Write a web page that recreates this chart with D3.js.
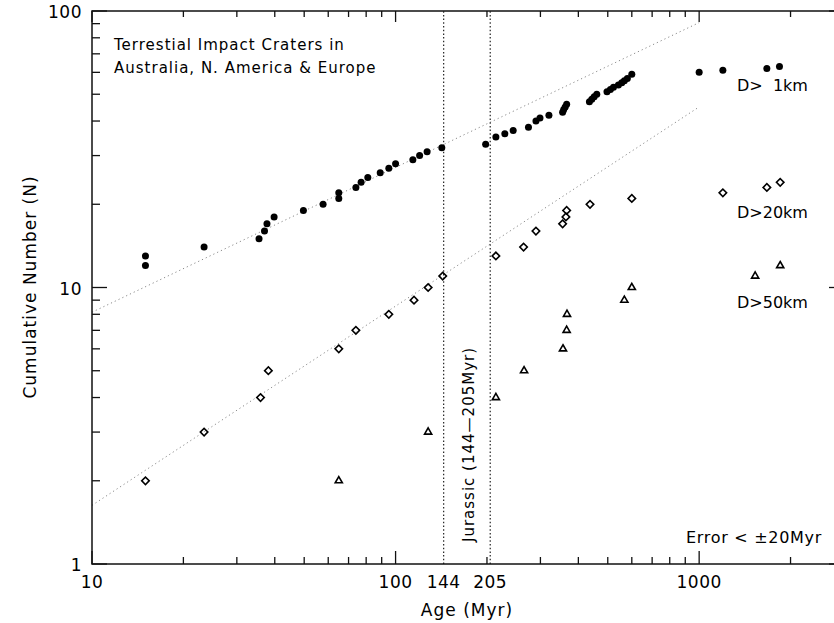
<!DOCTYPE html>
<html>
<head>
<meta charset="utf-8">
<script src="https://cdn.jsdelivr.net/npm/d3@7"></script>
<style>
body{margin:0;background:#fff;}
svg{display:block;}
text{font-family:"DejaVu Sans",sans-serif;fill:#000;}
</style>
</head>
<body>
<div id="chart"></div>
<script>
// D > 1km (filled dots)
var km1Age = [15, 15, 23.4, 35.5, 37, 37.7, 39.8, 49.7, 57.7, 65, 65, 74, 77, 81, 89, 95, 100, 114, 120, 127, 142,
              198, 214, 229, 244, 274, 290, 299, 320, 355, 358, 362, 366, 435, 443, 451, 460,
              497, 510, 522, 542, 556, 567, 580, 600, 1000, 1197, 1671, 1839];
var km1N   = [12, 13, 14, 15, 16, 17, 18, 19, 20, 21, 22, 23, 24, 25, 26, 27, 28, 29, 30, 31, 32,
              33, 35, 36, 37, 38, 40, 41, 42, 43, 44, 45, 46, 47, 48, 49, 50,
              51, 52, 53, 54, 55, 56, 57, 59, 60, 61, 62, 63];
// D > 20km (open diamonds)
var km20Age = [15, 23.4, 35.9, 38.1, 65, 74, 95, 115, 128, 143, 214, 264, 290, 355, 364, 366, 437, 600, 1197, 1671, 1849];
var km20N   = [2, 3, 4, 5, 6, 7, 8, 9, 10, 11, 13, 14, 16, 17, 18, 19, 20, 21, 22, 23, 24];
// D > 50km (open triangles)
var km50Age = [65, 128, 214, 265, 356, 366, 367, 567, 600, 1529, 1849];
var km50N   = [2, 3, 4, 5, 6, 7, 8, 9, 10, 11, 12];
// power-law fits, value at 10 and 1000 Myr
var fitAge = [10, 1000];
var fit1N  = [8.14, 90.8];
var fit20N = [1.63, 45.0];
// Jurassic bounds
var jurassic = [144, 205];
var xTickLabels = [10, 100, 144, 205, 1000];
var yTickLabels = [1, 10, 100];

var W = 834, H = 623;
var margin = {left: 92, top: 11, right: -10, bottom: 59};

var svg = d3.select("#chart").append("svg").attr("width", W).attr("height", H);

var x = d3.scaleLog().domain([10, 3000]).range([margin.left, W - margin.right]);
var y = d3.scaleLog().domain([1, 100]).range([H - margin.bottom, margin.top]);

var x0 = x.range()[0], x1 = x.range()[1], y0 = y.range()[0], y1 = y.range()[1];

var isMajor = function(v){ return Math.abs(Math.log10(v) - Math.round(Math.log10(v))) < 1e-9; };

// fit lines
var fitLine = d3.line().x(function(d){ return x(d[0]); }).y(function(d){ return y(d[1]); });
[fit1N, fit20N].forEach(function(f){
  svg.append("path")
    .attr("d", fitLine(fitAge.map(function(a, i){ return [a, f[i]]; })))
    .attr("fill", "none").attr("stroke", "#8a8a8a").attr("stroke-width", 1)
    .attr("stroke-dasharray", "1.2,3");
});

// jurassic lines
svg.selectAll(".jur").data(jurassic).enter().append("line")
  .attr("x1", function(d){ return x(d); }).attr("x2", function(d){ return x(d); })
  .attr("y1", y0).attr("y2", y1)
  .attr("stroke", "#222").attr("stroke-width", 1.2).attr("stroke-dasharray", "1.5,2.2");

// frame
svg.append("rect").attr("x", x0).attr("y", y1).attr("width", x1 - x0).attr("height", y0 - y1)
  .attr("fill", "none").attr("stroke", "#111").attr("stroke-width", 1.5);

// x ticks bottom / top
var xt = x.ticks();
svg.selectAll(".xb").data(xt).enter().append("line")
  .attr("x1", function(d){ return x(d); }).attr("x2", function(d){ return x(d); })
  .attr("y1", y0).attr("y2", function(d){ return y0 - (isMajor(d) ? 13 : 7); })
  .attr("stroke", "#111").attr("stroke-width", 1.3);
svg.selectAll(".xt").data(xt).enter().append("line")
  .attr("x1", function(d){ return x(d); }).attr("x2", function(d){ return x(d); })
  .attr("y1", y1).attr("y2", function(d){ return y1 + (isMajor(d) ? 11 : 6); })
  .attr("stroke", "#111").attr("stroke-width", 1.3);

// y ticks left / right
var yt = y.ticks();
svg.selectAll(".yl").data(yt).enter().append("line")
  .attr("y1", function(d){ return y(d); }).attr("y2", function(d){ return y(d); })
  .attr("x1", x0).attr("x2", function(d){ return x0 + (isMajor(d) ? 15 : 8); })
  .attr("stroke", "#111").attr("stroke-width", 1.3);
svg.selectAll(".yr").data(yt).enter().append("line")
  .attr("y1", function(d){ return y(d); }).attr("y2", function(d){ return y(d); })
  .attr("x1", x1).attr("x2", function(d){ return x1 - (isMajor(d) ? 15 : 8); })
  .attr("stroke", "#111").attr("stroke-width", 1.3);

// tick labels
svg.selectAll(".xl").data(xTickLabels).enter().append("text")
  .attr("x", function(d){ return x(d); }).attr("y", 588)
  .attr("text-anchor", "middle").attr("font-size", 17).attr("letter-spacing", 0.5)
  .text(function(d){ return d; });
svg.selectAll(".ylb").data(yTickLabels).enter().append("text")
  .attr("x", 82).attr("y", function(d){ return y(d) + 7; })
  .attr("text-anchor", "end").attr("font-size", 17).attr("letter-spacing", 0.5)
  .text(function(d){ return d; });

// axis titles
svg.append("text").attr("x", 467).attr("y", 616).attr("text-anchor", "middle")
  .attr("font-size", 17).attr("letter-spacing", 1).text("Age (Myr)");
svg.append("text").attr("transform", "translate(36," + 287 + ") rotate(-90)")
  .attr("text-anchor", "middle").attr("font-size", 17).attr("letter-spacing", 1)
  .text("Cumulative Number (N)");

// series
var g1 = svg.append("g");
g1.selectAll("circle").data(km1Age).enter().append("circle")
  .attr("cx", function(d){ return x(d); }).attr("cy", function(d, i){ return y(km1N[i]); })
  .attr("r", 3.5).attr("fill", "#000");

var diamond = d3.symbol().type(d3.symbolSquare).size(28);
svg.append("g").selectAll("path").data(km20Age).enter().append("path")
  .attr("d", diamond)
  .attr("transform", function(d, i){ return "translate(" + x(d) + "," + y(km20N[i]) + ") rotate(45)"; })
  .attr("fill", "none").attr("stroke", "#000").attr("stroke-width", 1.6);

var tri = d3.symbol().type(d3.symbolTriangle).size(22);
svg.append("g").selectAll("path").data(km50Age).enter().append("path")
  .attr("d", tri)
  .attr("transform", function(d, i){ return "translate(" + x(d) + "," + y(km50N[i]) + ")"; })
  .attr("fill", "none").attr("stroke", "#000").attr("stroke-width", 1.6);

// annotations
svg.append("text").attr("x", 114).attr("y", 50).attr("font-size", 15).attr("letter-spacing", 1)
  .text("Terrestial Impact Craters in");
svg.append("text").attr("x", 114).attr("y", 73).attr("font-size", 15).attr("letter-spacing", 1)
  .text("Australia, N. America & Europe");
svg.append("text").attr("x", 737).attr("y", 91).attr("font-size", 16).attr("xml:space", "preserve").text("D>  1km");
svg.append("text").attr("x", 737).attr("y", 218).attr("font-size", 16).text("D>20km");
svg.append("text").attr("x", 737).attr("y", 308).attr("font-size", 16).text("D>50km");
svg.append("text").attr("x", 822).attr("y", 543).attr("text-anchor", "end").attr("font-size", 16)
  .attr("letter-spacing", 0.7).text("Error < \u00b120Myr");
svg.append("text").attr("transform", "translate(474,542) rotate(-90)")
  .attr("font-size", 15).attr("letter-spacing", 1).text("Jurassic (144\u2014205Myr)");
</script>
</body>
</html>
